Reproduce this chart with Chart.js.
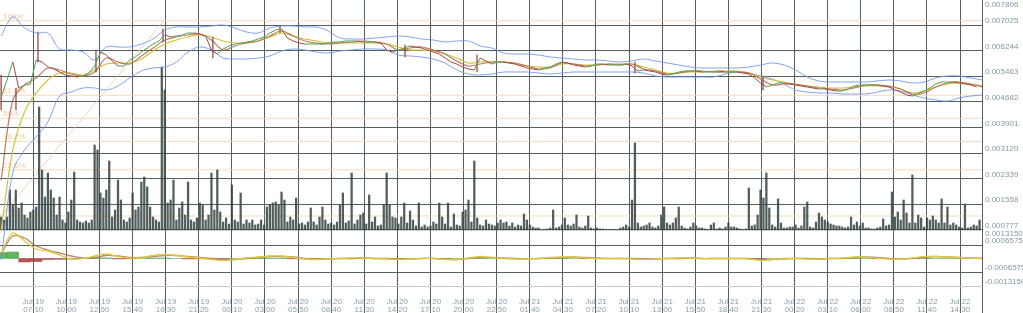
<!DOCTYPE html>
<html><head><meta charset="utf-8">
<script src="https://cdn.jsdelivr.net/npm/chart.js@4.4.1/dist/chart.umd.min.js"></script>
<style>html,body{margin:0;padding:0;background:#fff;overflow:hidden}canvas{display:block}</style>
</head><body>
<canvas id="c" width="1023" height="313"></canvas>
<script>
// ---- time axis (minutes from Jul 19 07:10) ----
const TICK_STEP = 170;
const TIME_MIN = -171, TIME_MAX = 4872.5;
const TICK_LABELS = [
 ["Jul 19","07:10"],["Jul 19","10:00"],["Jul 19","12:50"],["Jul 19","15:40"],["Jul 19","18:30"],["Jul 19","21:20"],
 ["Jul 20","00:10"],["Jul 20","03:00"],["Jul 20","05:50"],["Jul 20","08:40"],["Jul 20","11:30"],["Jul 20","14:20"],
 ["Jul 20","17:10"],["Jul 20","20:00"],["Jul 20","22:50"],["Jul 21","01:40"],["Jul 21","04:30"],["Jul 21","07:20"],
 ["Jul 21","10:10"],["Jul 21","13:00"],["Jul 21","15:50"],["Jul 21","18:40"],["Jul 21","21:30"],["Jul 22","00:20"],
 ["Jul 22","03:10"],["Jul 22","06:00"],["Jul 22","08:50"],["Jul 22","11:40"],["Jul 22","14:30"]
];

// ---- right axis labels ----
const PRICE_TICKS = ["0.007806","0.007025","0.006244","0.005463","0.004682","0.003901","0.003120","0.002339","0.001558","0.000777"];
const MACD_TICKS = ["0.00131507","0.00065753","-0.00065753","-0.00131507"];

// ---- price (30-minute closes) ----
const PRICE_START = -165, PRICE_STEP = 30;
const priceClose = [
 0.004833,0.005351,0.005900,0.005107,0.005199,0.005229,0.005961,0.005900,0.005748,0.005687,
 0.005595,0.005504,0.005473,0.005443,0.005473,0.005565,0.005778,0.006205,0.006114,0.005931,
 0.005778,0.005778,0.005961,0.006053,0.006205,0.006327,0.006449,0.006541,0.006724,0.006663,
 0.006693,0.006724,0.006785,0.006785,0.006754,0.006693,0.006266,0.006144,0.006297,0.006388,
 0.006449,0.006480,0.006510,0.006541,0.006602,0.006663,0.006785,0.006876,0.006907,0.006632,
 0.006541,0.006480,0.006449,0.006449,0.006449,0.006449,0.006480,0.006510,0.006510,0.006541,
 0.006541,0.006541,0.006510,0.006510,0.006510,0.006480,0.006266,0.006205,0.006266,0.006327,
 0.006388,0.006358,0.006327,0.006266,0.006205,0.006144,0.006022,0.005900,0.005839,0.005748,
 0.005687,0.005656,0.006022,0.005931,0.005839,0.005900,0.005900,0.005870,0.005839,0.005778,
 0.005717,0.005687,0.005656,0.005717,0.005748,0.005839,0.005900,0.005870,0.005809,0.005778,
 0.005748,0.005778,0.005839,0.005839,0.005809,0.005809,0.005809,0.005839,0.005778,0.005626,
 0.005656,0.005626,0.005595,0.005534,0.005504,0.005534,0.005595,0.005626,0.005626,0.005626,
 0.005595,0.005595,0.005595,0.005626,0.005595,0.005595,0.005595,0.005565,0.005534,0.005412,
 0.005260,0.005138,0.005199,0.005260,0.005260,0.005229,0.005199,0.005168,0.005138,0.005107,
 0.005077,0.005077,0.005046,0.005016,0.005016,0.005077,0.005168,0.005199,0.005199,0.005199,
 0.005199,0.005168,0.005138,0.005046,0.004985,0.004894,0.004863,0.004924,0.005016,0.005107,
 0.005229,0.005290,0.005290,0.005290,0.005260,0.005229,0.005199,0.005138
];
// notable candle wicks (time, low, high)
const wickTimes = [-165, -89, 24, 322, 666, 922, 1267, 1909, 2279, 3090, 3748];
const wickLow  = [0.004436,0.004436,0.005900,0.005595,0.006510,0.006022,0.006785,0.006053,0.005595,0.005565,0.005046];
const wickHigh = [0.005504,0.005107,0.006815,0.006266,0.006907,0.006663,0.006998,0.006419,0.006114,0.005900,0.005473];

// ---- indicators (hourly samples) ----
const IND_START = -165, IND_STEP = 60;
const maSlow = [
 0.000777,0.003217,0.004375,0.004955,0.005351,0.005565,0.005565,0.005504,0.005656,0.005839,
 0.005870,0.005870,0.005992,0.006236,0.006449,0.006571,0.006663,0.006724,0.006663,0.006541,
 0.006480,0.006480,0.006541,0.006663,0.006785,0.006693,0.006602,0.006541,0.006480,0.006480,
 0.006480,0.006480,0.006480,0.006449,0.006358,0.006266,0.006266,0.006236,0.006144,0.006022,
 0.005870,0.005900,0.005900,0.005900,0.005839,0.005778,0.005748,0.005748,0.005839,0.005839,
 0.005809,0.005809,0.005839,0.005839,0.005839,0.005748,0.005656,0.005565,0.005565,0.005595,
 0.005595,0.005626,0.005626,0.005626,0.005565,0.005443,0.005351,0.005290,0.005199,0.005168,
 0.005138,0.005107,0.005107,0.005138,0.005168,0.005168,0.005138,0.005077,0.004955,0.005016,
 0.005138,0.005229,0.005260,0.005229,0.005168
];
const maFast = [
 0.002302,0.004741,0.005199,0.005412,0.005717,0.005656,0.005534,0.005473,0.005595,0.006022,
 0.005900,0.005839,0.006083,0.006327,0.006571,0.006663,0.006724,0.006754,0.006571,0.006266,
 0.006388,0.006480,0.006541,0.006693,0.006846,0.006693,0.006541,0.006480,0.006449,0.006480,
 0.006510,0.006541,0.006510,0.006449,0.006266,0.006327,0.006358,0.006266,0.006144,0.005931,
 0.005778,0.005839,0.005900,0.005900,0.005870,0.005778,0.005687,0.005717,0.005870,0.005839,
 0.005778,0.005809,0.005839,0.005809,0.005839,0.005687,0.005626,0.005534,0.005565,0.005626,
 0.005626,0.005595,0.005595,0.005595,0.005565,0.005382,0.005199,0.005229,0.005229,0.005168,
 0.005107,0.005077,0.005046,0.005107,0.005199,0.005199,0.005168,0.005077,0.004924,0.004955,
 0.005138,0.005260,0.005290,0.005229,0.005138
];
const bbUpper = [
 0.006693,0.007273,0.006937,0.006785,0.006785,0.006297,0.006266,0.006205,0.005961,0.006358,
 0.006358,0.006358,0.006449,0.006602,0.006876,0.006968,0.006968,0.006968,0.006998,0.007029,
 0.006937,0.006815,0.006785,0.006937,0.006998,0.006998,0.006968,0.006968,0.006846,0.006632,
 0.006602,0.006602,0.006632,0.006663,0.006693,0.006663,0.006602,0.006571,0.006510,0.006541,
 0.006541,0.006388,0.006327,0.006175,0.006144,0.006144,0.006114,0.006053,0.006022,0.005992,
 0.005961,0.005961,0.005931,0.005900,0.005931,0.005992,0.005931,0.005870,0.005809,0.005748,
 0.005717,0.005717,0.005717,0.005717,0.005748,0.005809,0.005870,0.005809,0.005656,0.005443,
 0.005321,0.005290,0.005290,0.005290,0.005290,0.005321,0.005351,0.005321,0.005260,0.005290,
 0.005412,0.005473,0.005473,0.005412,0.005351
];
const bbLower = [
 -0.000138,0.002546,0.003217,0.003613,0.004070,0.004863,0.004985,0.005107,0.005107,0.005046,
 0.005168,0.005412,0.005626,0.005717,0.005748,0.005900,0.006205,0.006358,0.006266,0.006022,
 0.005992,0.005992,0.006022,0.006083,0.006236,0.006297,0.006266,0.006205,0.006175,0.006236,
 0.006266,0.006297,0.006297,0.006266,0.006114,0.006083,0.006053,0.005992,0.005870,0.005656,
 0.005534,0.005504,0.005534,0.005595,0.005595,0.005595,0.005565,0.005534,0.005565,0.005595,
 0.005595,0.005595,0.005595,0.005595,0.005595,0.005565,0.005473,0.005443,0.005443,0.005443,
 0.005443,0.005443,0.005534,0.005595,0.005565,0.005473,0.005382,0.005229,0.005046,0.004985,
 0.004955,0.004955,0.004924,0.004924,0.004924,0.004985,0.005046,0.005016,0.004894,0.004802,
 0.004741,0.004711,0.004802,0.004863,0.004894
];
const macdLine = [
 0.000268,0.001242,0.000852,0.000463,0.000365,0.000170,-0.000024,0,0.000122,0.000219,
 0.000097,0.000024,0.000049,0.000146,0.000195,0.000146,0.000073,0.000024,-0.000049,-0.000097,
 -0.000049,0.000024,0.000073,0.000122,0.000122,0.000049,-0.000024,-0.000049,-0.000024,0,
 0.000024,0.000024,0,-0.000024,-0.000049,-0.000024,0,0,-0.000049,-0.000049,
 0.000024,0.000097,0.000049,0,-0.000024,-0.000024,0,0.000049,0.000073,0.000073,
 0.000024,0,0,0,-0.000024,-0.000049,-0.000024,0,0.000024,0.000024,
 0,0,0,0,-0.000024,-0.000097,-0.000049,0,0,-0.000024,
 -0.000024,0,0.000024,0.000073,0.000073,0.000024,-0.000024,-0.000024,0.000024,0.000097,
 0.000097,0.000073,0.000049,0.000024,0
];
const macdSignal = [
 0.000219,0.001096,0.000998,0.000609,0.000414,0.000268,0.000122,0.000024,0.000049,0.000146,
 0.000122,0.000049,0.000049,0.000097,0.000146,0.000146,0.000097,0.000049,0,-0.000049,
 -0.000049,0,0.000049,0.000097,0.000097,0.000073,0,-0.000024,-0.000024,0,
 0,0.000024,0,0,-0.000024,-0.000024,0,0,-0.000024,-0.000049,
 0,0.000049,0.000049,0.000024,0,-0.000024,0,0.000024,0.000049,0.000073,
 0.000049,0.000024,0,0,0,-0.000024,-0.000024,0,0,0.000024,
 0,0,0,0,0,-0.000049,-0.000049,-0.000024,0,0,
 -0.000024,0,0,0.000049,0.000073,0.000049,0,-0.000024,0,0.000049,
 0.000097,0.000073,0.000049,0.000024,0.000024
];
const macdHist = [
 0.000292,0.000317,-0.000170,-0.000146,-0.000049,-0.000039,-0.000024,0.000010,0.000039,0.000029,
 -0.000019,-0.000015,0,0.000024,0.000024,0,-0.000019,-0.000015,-0.000019,-0.000024,
 0,0.000015,0.000019,0.000019,0.000019,-0.000015,-0.000019,-0.000015,0,0,
 -0.000010,0,0,-0.000010,-0.000012,0,0,0,-0.000012,0,
 0.000012,0.000024,0,-0.000012,-0.000012,0,0,0.000012,0.000012,0,
 -0.000012,-0.000012,0,0,-0.000012,-0.000012,0,0,0.000012,0,
 0,0,0,0,-0.000012,-0.000024,0,0.000012,0,-0.000012,
 0,0,0.000012,0.000012,0,-0.000012,-0.000012,0,0.000012,0.000024,
 0,0,0,0,-0.000012
];

// ---- volume (15-minute bars) ----
const VOL_START = -165, VOL_STEP = 15;
const volume = [
 13,10,13,40,25,40,22,27,15,12, 18,20,23,123,60,33,57,40,32,15,
 33,10,7,18,30,58,10,8,7,9, 7,10,85,80,37,32,40,69,13,20,
 50,30,10,8,12,37,20,23,48,53, 43,23,13,10,8,163,140,27,30,50,
 10,22,28,15,48,10,8,12,27,25, 10,15,57,20,60,18,8,12,6,45,
 10,8,37,6,10,7,10,5,6,10, 5,23,25,27,28,25,38,30,8,13,
 10,32,6,7,5,8,22,8,5,13, 23,10,6,7,5,8,25,37,7,9,
 57,6,10,15,17,6,35,8,13,4, 5,25,57,25,13,12,6,13,27,7,
 19,10,4,27,3,5,3,4,8,6, 27,13,6,27,3,16,5,4,18,20,
 30,8,69,12,5,4,10,6,5,4, 7,10,7,8,4,7,3,5,4,16,
 10,5,3,2,2,0,0,1,2,20, 2,3,5,12,5,4,6,15,3,2,
 4,14,2,1,2,1,1,0,0,0, 0,0,2,3,5,3,30,87,7,3,
 4,5,7,3,2,4,15,23,7,5, 7,12,23,4,2,1,3,7,4,2,
 2,1,0,5,7,1,2,1,3,7, 3,3,2,1,0,1,42,4,5,15,
 40,32,57,22,5,3,31,7,2,2, 3,3,5,2,4,23,28,3,2,8,
 17,13,10,8,6,5,4,4,3,2, 3,13,5,8,4,7,2,2,1,1,
 2,3,11,4,5,38,13,18,10,30, 17,7,55,7,15,12,3,12,10,14,
 10,7,31,7,23,5,7,5,3,2, 26,2,3,5,4,10
];

// ---- Fibonacci retracement ----
const FIB_LEVELS = [0.007160,0.004885,0.004182,0.003479,0.002610,0.001204];
const FIB_NAMES = ["100%","61.8%","50%","38.2%","23.6%","0%"];
const FIB_TREND_TIMES = [-165, 670];
const FIB_TREND_PRICES = [0.001204, 0.007160];

// ---- helpers ----
const series = (arr, start, step) => arr.map((v, i) => ({x: start + i * step, y: v}));
const FONT = '"Liberation Sans", Arial, sans-serif';
const GRID = '#53615f';
const UP = '#4f9e4f', DOWN = '#a8463f';

const datasets = [];
datasets.push({type:'line', label:'price', data: series(priceClose, PRICE_START, PRICE_STEP), yAxisID:'y',
  borderWidth:1, pointRadius:0, order:1,
  segment:{borderColor: c => c.p1.parsed.y >= c.p0.parsed.y ? UP : DOWN}});
datasets.push({type:'bar', label:'wicks', data: wickTimes.map((t,i)=>({x:t, y:[wickLow[i], wickHigh[i]]})), yAxisID:'y',
  backgroundColor:'rgba(150,80,70,0.8)', barThickness:1, grouped:false, order:1});
datasets.push({type:'line', label:'maFast', data: series(maFast, IND_START, IND_STEP), yAxisID:'y',
  borderColor:'rgba(176,112,86,0.9)', borderWidth:1.2, pointRadius:0, tension:0.35, order:2});
datasets.push({type:'line', label:'maSlow', data: series(maSlow, IND_START, IND_STEP), yAxisID:'y',
  borderColor:'#d2c43c', borderWidth:1.2, pointRadius:0, tension:0.35, order:3});
datasets.push({type:'line', label:'bbUpper', data: series(bbUpper, IND_START, IND_STEP), yAxisID:'y',
  borderColor:'rgba(108,148,236,0.85)', borderWidth:1, pointRadius:0, tension:0.35, order:4});
datasets.push({type:'line', label:'bbLower', data: series(bbLower, IND_START, IND_STEP), yAxisID:'y',
  borderColor:'rgba(108,148,236,0.85)', borderWidth:1, pointRadius:0, tension:0.35, order:4});
datasets.push({type:'line', label:'macd', data: series(macdLine, IND_START, IND_STEP), yAxisID:'m',
  borderColor:'#dccb3a', borderWidth:1.3, pointRadius:0, tension:0.35, order:1});
datasets.push({type:'line', label:'signal', data: series(macdSignal, IND_START, IND_STEP), yAxisID:'m',
  borderColor:'rgba(176,120,92,0.9)', borderWidth:1.3, pointRadius:0, tension:0.35, order:2});
datasets.push({type:'bar', label:'hist', data: series(macdHist, IND_START, IND_STEP), yAxisID:'m',
  backgroundColor: c => (c.raw && c.raw.y >= 0) ? 'rgba(70,165,70,0.85)' : 'rgba(165,55,55,0.85)',
  barThickness:11.5, grouped:false, order:5});
datasets.push({type:'bar', label:'volume', data: series(volume, VOL_START, VOL_STEP), yAxisID:'v',
  backgroundColor:'rgba(52,66,66,0.85)', barThickness:1.6, grouped:false, order:6});
datasets.push({type:'line', label:'fibTrend', data: FIB_TREND_TIMES.map((t,i)=>({x:t, y:FIB_TREND_PRICES[i]})), yAxisID:'y',
  borderColor:'rgba(244,196,150,0.75)', borderWidth:1, pointRadius:0, order:7});
FIB_LEVELS.forEach(l => datasets.push({type:'line', label:'fib', data:[{x:TIME_MIN,y:l},{x:TIME_MAX,y:l}], yAxisID:'y',
  borderColor:'rgba(245,214,176,0.9)', borderWidth:1, pointRadius:0, order:8}));

const labelPlugin = {
  id:'labels',
  beforeDatasetsDraw(chart){
    const c = chart.ctx, y = chart.scales.y;
    c.save();
    c.font = '8px ' + FONT; c.fillStyle = 'rgba(236,190,140,0.8)'; c.textAlign = 'left'; c.textBaseline = 'alphabetic';
    FIB_LEVELS.forEach((l,i) => c.fillText(FIB_NAMES[i], 3, y.getPixelForValue(l) - 2));
    c.restore();
  },
  afterDraw(chart){
    const c = chart.ctx, y = chart.scales.y, m = chart.scales.m;
    c.save();
    c.font = '8px ' + FONT; c.fillStyle = '#8199a3'; c.textAlign = 'left'; c.textBaseline = 'alphabetic';
    const x0 = chart.chartArea.right + 3;
    const top = chart.chartArea.top;
    PRICE_TICKS.forEach(s => c.fillText(s, x0, Math.max(y.getPixelForValue(parseFloat(s)) - 2, top + 6.5)));
    const mTop = y.getPixelForValue(parseFloat(PRICE_TICKS[PRICE_TICKS.length-1]));
    MACD_TICKS.forEach(s => c.fillText(s, x0, Math.max(m.getPixelForValue(parseFloat(s)) - 2, mTop + 6.5)));
    c.restore();
  }
};

new Chart(document.getElementById('c'), {
  data:{datasets},
  options:{
    responsive:false, animation:false, events:[],
    layout:{padding:{left:0,right:41,top:0,bottom:0}},
    plugins:{legend:{display:false}, tooltip:{enabled:false}},
    scales:{
      x:{type:'linear', min:TIME_MIN, max:TIME_MAX, offset:false,
        afterBuildTicks: s => { s.ticks = TICK_LABELS.map((_,k)=>({value:k*TICK_STEP})).concat([{value:TIME_MAX}]); },
        afterFit: s => { s.height = 27; },
        grid:{offset:false, color:GRID, lineWidth:1, drawTicks:true, tickLength:27, tickColor:GRID},
        border:{display:true, color:'#c6cece'},
        ticks:{autoSkip:false, maxRotation:0, minRotation:0, padding:-15, color:'#8aa1ae',
          font:{family:FONT, size:8, lineHeight:0.95},
          callback:(v,i) => TICK_LABELS[i] || ''}},
      y:{type:'linear', position:'right', min:-0.000931, max:0.007791,
        afterBuildTicks: s => { s.ticks = PRICE_TICKS.slice(1).map(t=>({value:parseFloat(t)})); },
        afterFit: s => { s.width = 0; },
        grid:{color:GRID, drawTicks:false}, border:{display:false}, ticks:{display:false}},
      m:{type:'linear', position:'right', min:-0.0013394, max:0.012591,
        afterBuildTicks: s => { s.ticks = [parseFloat(MACD_TICKS[1]), parseFloat(MACD_TICKS[2])].map(v=>({value:v})); },
        afterFit: s => { s.width = 0; },
        grid:{color:GRID, drawTicks:false}, border:{display:false}, ticks:{display:false}},
      v:{type:'linear', position:'right', display:false, min:-56, max:230}
    }
  },
  plugins:[labelPlugin]
});
</script>
</body></html>
